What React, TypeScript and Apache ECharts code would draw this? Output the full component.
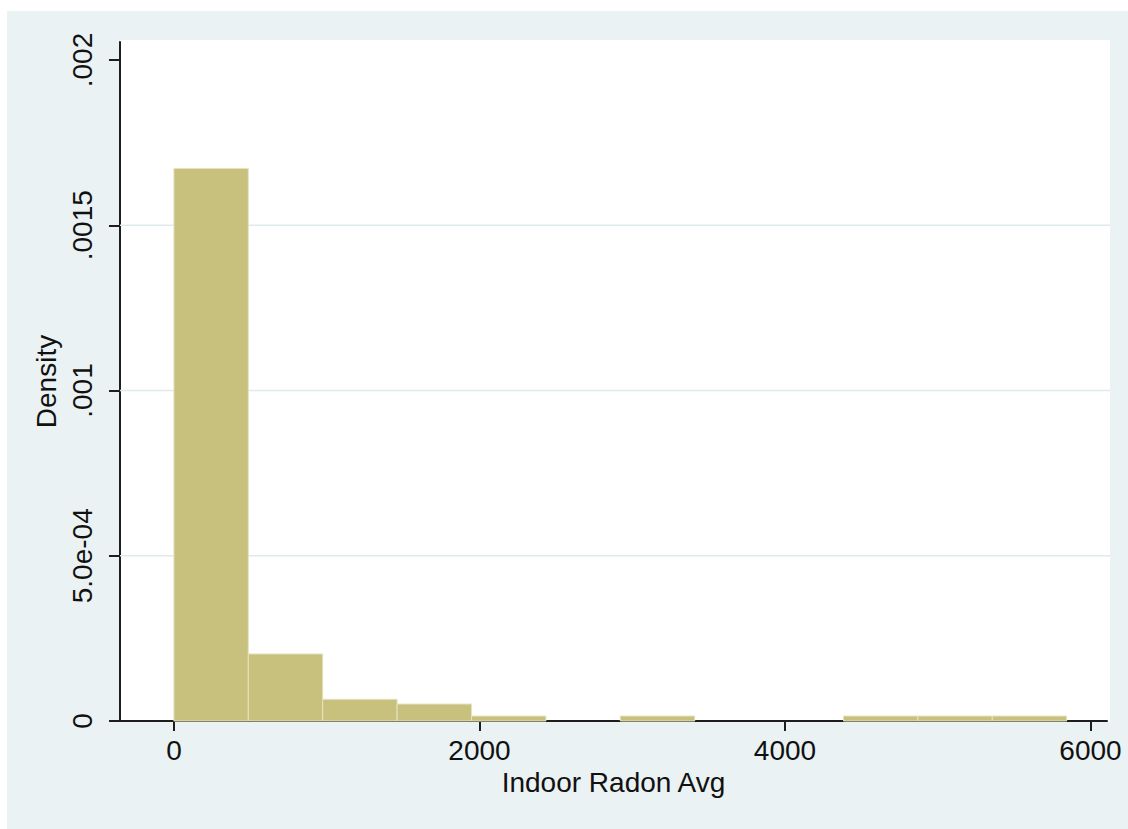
import React, { useEffect, useRef } from 'react';
import * as echarts from 'echarts';

// Histogram bins (Indoor Radon Avg) and their densities
const binStarts = [0, 487, 974, 1461, 1948, 2435, 2922, 3409, 3896, 4383, 4870, 5357];
const binEnds = [487, 974, 1461, 1948, 2435, 2922, 3409, 3896, 4383, 4870, 5357, 5844];
const densities = [0.001672, 0.000203, 0.0000657, 0.0000514, 0.0000151, 0, 0.0000151, 0, 0, 0.0000151, 0.0000151, 0.0000151];

const xTicks = [0, 2000, 4000, 6000];
const xTickLabels = ['0', '2000', '4000', '6000'];
const yTicks = [0, 0.0005, 0.001, 0.0015, 0.002];
const yTickLabels = ['0', '5.0e-04', '.001', '.0015', '.002'];
const gridValues = [0.0005, 0.001, 0.0015];

const X_MIN = -353;
const X_MAX = 6108;

const FONT = '"Liberation Sans", Arial, sans-serif';
const TEXT = '#111111';
const AXIS = '#1e1e1e';
const FS = 28;

const pick = (ticks: number[], labels: string[], v: number) => {
  const i = ticks.findIndex((t) => Math.abs(t - v) < 1e-9 * Math.max(1, Math.abs(t)));
  return i >= 0 ? labels[i] : '';
};

export default function App() {
  const ref = useRef<HTMLDivElement>(null);

  useEffect(() => {
    if (!ref.current) return;
    const chart = echarts.init(ref.current, null, { renderer: 'svg' });
    const data = binStarts.map((s, i) => [s, binEnds[i], densities[i]]);

    chart.setOption({
      animation: false,
      backgroundColor: '#eaf2f3',
      graphic: {
        elements: [
          {
            type: 'rect',
            z: -100,
            silent: true,
            shape: { x: 113, y: 29, width: 990, height: 682 },
            style: { fill: '#ffffff' },
          },
        ],
      },
      grid: { left: 113, top: 31, width: 987, height: 679, containLabel: false },
      xAxis: {
        type: 'value',
        min: X_MIN,
        max: X_MAX,
        axisLine: { show: true, onZero: false, lineStyle: { color: AXIS, width: 2 } },
        axisTick: { show: true, length: 10, customValues: xTicks, lineStyle: { color: AXIS, width: 2 } },
        axisLabel: {
          customValues: xTicks,
          fontSize: FS,
          margin: 15,
          color: TEXT,
          fontFamily: FONT,
          formatter: (v: number) => pick(xTicks, xTickLabels, v),
        },
        splitLine: { show: false },
        name: 'Indoor Radon Avg',
        nameLocation: 'middle',
        nameGap: 43,
        nameTextStyle: { fontSize: FS, color: TEXT, fontFamily: FONT },
      },
      yAxis: {
        type: 'value',
        min: 0,
        max: 0.0020545,
        axisLine: { show: true, onZero: false, lineStyle: { color: AXIS, width: 2 } },
        axisTick: { show: true, length: 11, customValues: yTicks, lineStyle: { color: AXIS, width: 2 } },
        axisLabel: {
          customValues: yTicks,
          rotate: 90,
          fontSize: FS,
          margin: 24,
          color: TEXT,
          fontFamily: FONT,
          formatter: (v: number) => pick(yTicks, yTickLabels, v),
        },
        splitLine: { show: false },
        name: 'Density',
        nameLocation: 'middle',
        nameRotate: 90,
        nameGap: 50,
        nameTextStyle: { fontSize: FS, color: TEXT, fontFamily: FONT },
      },
      series: [
        {
          type: 'custom',
          z: 1,
          silent: true,
          data: gridValues.map((v) => [v]),
          encode: { y: 0 },
          renderItem: (params: any, api: any) => {
            const v = api.value(0);
            const a = api.coord([X_MIN, v]);
            const b = api.coord([X_MAX, v]);
            return {
              type: 'line',
              shape: { x1: a[0], y1: a[1], x2: b[0] + 3, y2: b[1] },
              style: { stroke: '#dfeaee', lineWidth: 1.5 },
            };
          },
        },
        {
          type: 'custom',
          data,
          z: 2,
          encode: { x: [0, 1], y: 2 },
          renderItem: (params: any, api: any) => {
            const start = api.value(0);
            const end = api.value(1);
            const d = api.value(2);
            if (!d) return null;
            const p0 = api.coord([start, d]);
            const p1 = api.coord([end, 0]);
            return {
              type: 'rect',
              shape: { x: p0[0], y: p0[1], width: p1[0] - p0[0], height: p1[1] - p0[1] },
              style: { fill: '#c8c17d', stroke: '#e6e3bf', lineWidth: 1 },
            };
          },
        },
      ],
    });

    return () => chart.dispose();
  }, []);

  return (
    <div
      ref={ref}
      style={{ position: 'absolute', left: 7, top: 11, width: 1121, height: 818 }}
    />
  );
}
